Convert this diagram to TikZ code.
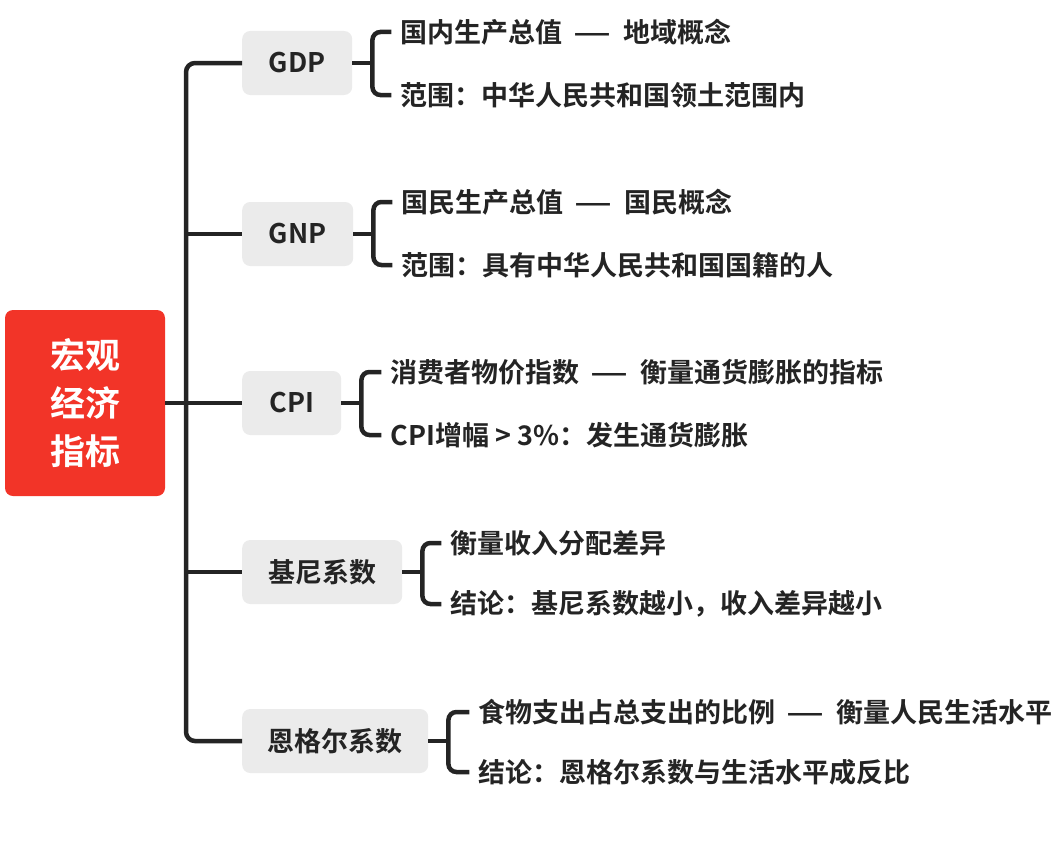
\documentclass[tikz,border=0pt]{standalone}
\usepackage{fontspec}
\usepackage{graphicx}
\setmainfont{Noto Sans CJK SC}[BoldFont={Noto Sans CJK SC Bold}]
\definecolor{rootred}{RGB}{242,52,40}
\definecolor{boxgray}{RGB}{235,235,235}
\definecolor{ink}{RGB}{36,36,36}
\newcommand\longdash{\hspace{0.42em}\scalebox{1.55}[1]{—}\hspace{0.42em}}
\begin{document}
\begin{tikzpicture}[x=1pt,y=-1pt,
  rootbox/.style={fill=rootred, rounded corners=8pt, text=white,
    font=\fontsize{35}{48}\selectfont\bfseries, align=center,
    minimum width=160pt, minimum height=186pt, inner sep=0pt},
  branchbox/.style={fill=boxgray, rounded corners=8pt, text=ink,
    font=\fontsize{27}{30}\selectfont\bfseries, minimum height=64pt,
    inner sep=0pt, anchor=west},
  leaf/.style={anchor=west, text=ink, font=\fontsize{27}{30}\selectfont\bfseries, inner sep=0pt},
  link/.style={draw=ink, line width=4.5pt, rounded corners=9pt},
]
\useasboundingbox (0,0) rectangle (1056,843);

% root and branches
\node[rootbox] (root) at (85,403) {宏观\\经济\\指标};
\node[branchbox, minimum width=110pt] (gdp) at (242,63) {GDP};
\node[branchbox, minimum width=111pt] (gnp) at (242,234) {GNP};
\node[branchbox, minimum width=99pt]  (cpi) at (242,403) {CPI};
\node[branchbox, minimum width=160pt] (gini) at (242,572) {基尼系数};
\node[branchbox, minimum width=186pt] (eng) at (242,741) {恩格尔系数};

% trunk
\coordinate (trunk) at (186,403);
\draw[link] (gdp.west) -| (trunk) |- (eng.west);
\draw[link] (root.east) -- (cpi.west);
\draw[link] (trunk |- gnp.west) -- (gnp.west);
\draw[link] (trunk |- gini.west) -- (gini.west);

% leaves
\node[leaf] (g1) at ([xshift=48pt,yshift=31pt]gdp.east) {国内生产总值\longdash 地域概念};
\node[leaf] (g2) at ([xshift=48pt,yshift=-32pt]gdp.east) {范围：中华人民共和国领土范围内};
\node[leaf] (n1) at ([xshift=48pt,yshift=32pt]gnp.east) {国民生产总值\longdash 国民概念};
\node[leaf] (n2) at ([xshift=48pt,yshift=-31pt]gnp.east) {范围：具有中华人民共和国国籍的人};
\node[leaf] (c1) at ([xshift=49pt,yshift=31pt]cpi.east) {消费者物价指数\longdash 衡量通货膨胀的指标};
\node[leaf] (c2) at ([xshift=49pt,yshift=-32pt]cpi.east) {CPI增幅 > 3\%：发生通货膨胀};
\node[leaf] (j1) at ([xshift=48pt,yshift=29pt]gini.east) {衡量收入分配差异};
\node[leaf] (j2) at ([xshift=48pt,yshift=-32pt]gini.east) {结论：基尼系数越小，收入差异越小};
\node[leaf] (e1) at ([xshift=50pt,yshift=29pt]eng.east) {食物支出占总支出的比例\longdash 衡量人民生活水平};
\node[leaf] (e2) at ([xshift=50pt,yshift=-31pt]eng.east) {结论：恩格尔系数与生活水平成反比};

% brackets
\foreach \b/\u/\l in {gdp/g1/g2, gnp/n1/n2, cpi/c1/c2, gini/j1/j2, eng/e1/e2}{
  \coordinate (\b br) at ([xshift=20pt]\b.east);
  \draw[link] (\b.east) -- (\b br);
  \draw[link, rounded corners=8pt] ([xshift=-9pt]\u.west) -| (\b br) |- ([xshift=-9pt]\l.west);
}
\end{tikzpicture}
\end{document}
